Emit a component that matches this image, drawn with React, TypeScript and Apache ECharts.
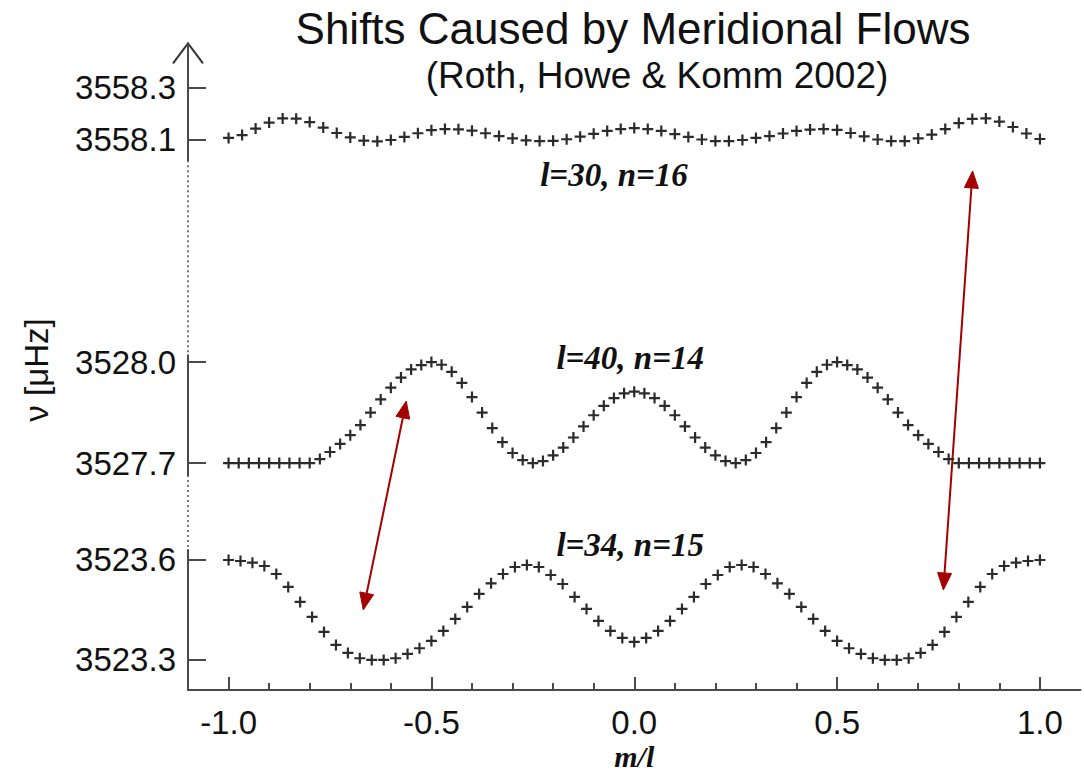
import React, { useEffect, useRef } from "react";
import * as echarts from "echarts";

// Degree of each mode; points sit at m/l for m = -l..l
const L_TOP = 30;
const L_MID = 40;
const L_BOT = 34;

// Frequencies (µHz) for l=30, n=16, m = -30..30
const nuTop = [
  3558.106, 3558.117, 3558.142, 3558.165, 3558.181, 3558.180, 3558.167, 3558.146, 3558.125, 3558.108,
  3558.096, 3558.093, 3558.098, 3558.110, 3558.124, 3558.136, 3558.140, 3558.139, 3558.134, 3558.124,
  3558.113, 3558.104, 3558.097, 3558.094, 3558.095, 3558.101, 3558.111, 3558.122, 3558.133, 3558.140,
  3558.144,
  3558.140, 3558.133, 3558.121, 3558.110, 3558.100, 3558.094, 3558.094, 3558.098, 3558.106, 3558.113,
  3558.123, 3558.133, 3558.138, 3558.140, 3558.137, 3558.125, 3558.112, 3558.100, 3558.094, 3558.094,
  3558.104, 3558.119, 3558.140, 3558.163, 3558.179, 3558.181, 3558.169, 3558.148, 3558.123, 3558.102,
];

// Frequencies (µHz) for l=40, n=14, m = -40..40
const nuMid = [
  3527.700, 3527.700, 3527.700, 3527.700, 3527.700, 3527.700, 3527.700, 3527.700, 3527.700, 3527.712,
  3527.733, 3527.757, 3527.783, 3527.813, 3527.850, 3527.889, 3527.924, 3527.954, 3527.978, 3527.991,
  3528.000, 3527.992, 3527.971, 3527.938, 3527.896, 3527.850, 3527.804, 3527.762, 3527.730, 3527.709,
  3527.700, 3527.706, 3527.723, 3527.746, 3527.776, 3527.809, 3527.842, 3527.870, 3527.893, 3527.907,
  3527.912,
  3527.907, 3527.893, 3527.870, 3527.842, 3527.809, 3527.776, 3527.746, 3527.723, 3527.706, 3527.700,
  3527.709, 3527.730, 3527.762, 3527.804, 3527.850, 3527.896, 3527.938, 3527.971, 3527.992, 3528.000,
  3527.991, 3527.978, 3527.954, 3527.924, 3527.889, 3527.850, 3527.813, 3527.783, 3527.757, 3527.733,
  3527.712, 3527.700, 3527.700, 3527.700, 3527.700, 3527.700, 3527.700, 3527.700, 3527.700, 3527.700,
];

// Frequencies (µHz) for l=34, n=15, m = -34..34
const nuBot = [
  3523.600, 3523.597, 3523.592, 3523.582, 3523.558, 3523.519, 3523.474, 3523.429, 3523.384, 3523.345,
  3523.321, 3523.305, 3523.300, 3523.300, 3523.305, 3523.318, 3523.335, 3523.357, 3523.387, 3523.423,
  3523.459, 3523.498, 3523.530, 3523.558, 3523.579, 3523.585, 3523.579, 3523.555, 3523.528, 3523.489,
  3523.453, 3523.417, 3523.387, 3523.366,
  3523.354,
  3523.366, 3523.387, 3523.417, 3523.453, 3523.489, 3523.528, 3523.555, 3523.579, 3523.585, 3523.579,
  3523.558, 3523.530, 3523.498, 3523.459, 3523.423, 3523.387, 3523.357, 3523.335, 3523.318, 3523.305,
  3523.300, 3523.300, 3523.305, 3523.321, 3523.345, 3523.384, 3523.429, 3523.474, 3523.519, 3523.558,
  3523.582, 3523.592, 3523.597, 3523.600,
];

// Axis ticks
const yTicksTop = [3558.1, 3558.3];
const yTicksMid = [3527.7, 3528.0];
const yTicksBot = [3523.3, 3523.6];
const xMajorTicks = [-1.0, -0.5, 0.0, 0.5, 1.0];
const xMinorTicks = [-0.9, -0.8, -0.7, -0.6, -0.4, -0.3, -0.2, -0.1, 0.1, 0.2, 0.3, 0.4, 0.6, 0.7, 0.8, 0.9];

// Mode labels and their anchor points [grid, m/l, ν]
const modeLabels = ["l=30, n=16", "l=40, n=14", "l=34, n=15"];
const modeLabelAnchors: [number, number, number][] = [
  [0, -0.05, 3557.962],
  [1, -0.01, 3528.012],
  [2, -0.01, 3523.645],
];

// Double-headed arrows linking mode features: [grid, m/l, ν] -> [grid, m/l, ν]
const arrowLinks: [[number, number, number], [number, number, number]][] = [
  [[1, -0.562, 3527.884], [2, -0.668, 3523.45]],
  [[0, 0.834, 3557.979], [2, 0.762, 3523.51]],
];

const SANS = '"Liberation Sans", Arial, Helvetica, sans-serif';
const SERIF = '"Liberation Serif", "Times New Roman", serif';
const AXIS_COLOR = "#4a4a4a";
const ARROW_RED = "#a30000";
const PLUS = "path://M4,0H6V4H10V6H6V10H4V6H0V4H4Z";

const GRID_LEFT = 188;
const GRID_RIGHT = 3.5;
const grids = [
  { top: 43.3, height: 117, min: 3558.02, max: 3558.47 },
  { top: 355.3, height: 119.6, min: 3527.665, max: 3528.02 },
  { top: 550, height: 139.9, min: 3523.21, max: 3523.63 },
];
const yTicks = [yTicksTop, yTicksMid, yTicksBot];

const toPoints = (l: number, vals: number[]) => vals.map((v, i) => [(i - l) / l, v]);

export default function App() {
  const ref = useRef<HTMLDivElement>(null);

  useEffect(() => {
    if (!ref.current) return;
    const chart = echarts.init(ref.current, null, { renderer: "svg" });

    const yAxes = grids.map((g, i) => ({
      type: "value",
      gridIndex: i,
      min: g.min,
      max: g.max,
      axisLine: { show: true, onZero: false, lineStyle: { color: AXIS_COLOR, width: 2 } },
      axisTick: {
        show: true,
        inside: true,
        length: 18,
        customValues: yTicks[i],
        lineStyle: { color: AXIS_COLOR, width: 2 },
      },
      axisLabel: {
        show: true,
        customValues: yTicks[i],
        formatter: (v: number) => v.toFixed(1),
        margin: 12,
        fontSize: 33,
        fontFamily: SANS,
        color: "#111",
      },
      splitLine: { show: false },
    }));

    const hiddenX = (i: number) => ({
      type: "value",
      gridIndex: i,
      min: -1.1,
      max: 1.1,
      show: false,
    });

    const option: any = {
      animation: false,
      backgroundColor: "#fff",
      grid: grids.map((g) => ({
        left: GRID_LEFT,
        right: GRID_RIGHT,
        top: g.top,
        height: g.height,
        containLabel: false,
        outerBoundsMode: "none",
      })),
      xAxis: [
        hiddenX(0),
        hiddenX(1),
        {
          type: "value",
          gridIndex: 2,
          position: "bottom",
          min: -1.1,
          max: 1.1,
          axisLine: { show: true, onZero: false, lineStyle: { color: AXIS_COLOR, width: 2 } },
          axisTick: {
            show: true,
            inside: true,
            length: 13,
            customValues: xMajorTicks,
            lineStyle: { color: AXIS_COLOR, width: 2 },
          },
          axisLabel: {
            show: true,
            customValues: xMajorTicks,
            formatter: (v: number) => v.toFixed(1),
            margin: 16,
            fontSize: 33,
            fontFamily: SANS,
            color: "#111",
          },
          splitLine: { show: false },
          name: "m/l",
          nameLocation: "middle",
          nameGap: 52,
          nameTextStyle: {
            fontFamily: SERIF,
            fontStyle: "italic",
            fontWeight: "bold",
            fontSize: 30,
            color: "#111",
          },
        },
        {
          type: "value",
          gridIndex: 2,
          position: "bottom",
          min: -1.1,
          max: 1.1,
          axisLine: { show: false, onZero: false },
          axisTick: {
            show: true,
            inside: true,
            length: 7,
            customValues: xMinorTicks,
            lineStyle: { color: AXIS_COLOR, width: 2 },
          },
          axisLabel: { show: false },
          splitLine: { show: false },
        },
      ],
      yAxis: yAxes,
      series: [
        { l: L_TOP, vals: nuTop, grid: 0 },
        { l: L_MID, vals: nuMid, grid: 1 },
        { l: L_BOT, vals: nuBot, grid: 2 },
      ].map((s, i) => ({
        type: "scatter",
        name: modeLabels[i],
        xAxisIndex: s.grid,
        yAxisIndex: s.grid,
        data: toPoints(s.l, s.vals),
        symbol: PLUS,
        symbolSize: 11,
        itemStyle: { color: "#2b2b2b", opacity: 1 },
        silent: true,
      })),
    };

    chart.setOption(option);

    const px = (g: number, x: number, y: number) =>
      chart.convertToPixel({ gridIndex: g } as any, [x, y]) as number[];

    const graphics: any[] = [];

    // Title
    graphics.push({
      type: "text",
      x: 633,
      y: 28,
      style: {
        text: "Shifts Caused by Meridional Flows",
        font: `44px ${SANS}`,
        fill: "#111",
        align: "center",
        verticalAlign: "middle",
      },
    });
    graphics.push({
      type: "text",
      x: 657,
      y: 75,
      style: {
        text: "(Roth, Howe & Komm 2002)",
        font: `37px ${SANS}`,
        fill: "#111",
        align: "center",
        verticalAlign: "middle",
      },
    });

    // Vertical axis title
    graphics.push({
      type: "text",
      x: 36,
      y: 370,
      rotation: Math.PI / 2,
      style: {
        text: "ν [μHz]",
        font: `33px ${SANS}`,
        fill: "#111",
        align: "center",
        verticalAlign: "middle",
      },
    });

    // Open arrow head on top of the frequency axis and dotted breaks between panels
    const axisX = GRID_LEFT;
    const topY = grids[0].top;
    graphics.push({
      type: "polyline",
      shape: { points: [[axisX - 15, topY + 20], [axisX, topY], [axisX + 15, topY + 20]] },
      style: { stroke: "#333", lineWidth: 2, fill: null },
    });
    for (let i = 0; i < grids.length - 1; i++) {
      const y1 = grids[i].top + grids[i].height;
      const y2 = grids[i + 1].top;
      graphics.push({
        type: "line",
        shape: { x1: axisX, y1, x2: axisX, y2 },
        style: { stroke: "#777", lineWidth: 2, lineDash: [2, 3] },
      });
    }

    // Mode labels
    modeLabelAnchors.forEach(([g, x, y], i) => {
      const p = px(g, x, y);
      graphics.push({
        type: "text",
        x: p[0],
        y: p[1],
        style: {
          text: modeLabels[i],
          font: `italic bold 33px ${SERIF}`,
          fill: "#111",
          align: "center",
          verticalAlign: "middle",
        },
      });
    });

    // Red double-headed arrows
    const headLen = 17;
    const headHalf = 7;
    arrowLinks.forEach(([a, b]) => {
      const p1 = px(a[0], a[1], a[2]);
      const p2 = px(b[0], b[1], b[2]);
      const dx = p2[0] - p1[0];
      const dy = p2[1] - p1[1];
      const len = Math.hypot(dx, dy);
      const ux = dx / len;
      const uy = dy / len;
      const nx = -uy;
      const ny = ux;
      graphics.push({
        type: "line",
        shape: {
          x1: p1[0] + ux * headLen * 0.8,
          y1: p1[1] + uy * headLen * 0.8,
          x2: p2[0] - ux * headLen * 0.8,
          y2: p2[1] - uy * headLen * 0.8,
        },
        style: { stroke: ARROW_RED, lineWidth: 2 },
      });
      const head = (tip: number[], dirx: number, diry: number) => {
        const bx = tip[0] - dirx * headLen;
        const by = tip[1] - diry * headLen;
        return {
          type: "polygon",
          shape: {
            points: [
              [tip[0], tip[1]],
              [bx + nx * headHalf, by + ny * headHalf],
              [bx - nx * headHalf, by - ny * headHalf],
            ],
          },
          style: { fill: ARROW_RED, stroke: ARROW_RED, lineWidth: 1 },
        };
      };
      graphics.push(head(p2, ux, uy));
      graphics.push(head(p1, -ux, -uy));
    });

    chart.setOption({ graphic: graphics });

    return () => chart.dispose();
  }, []);

  return (
    <div
      ref={ref}
      style={{ position: "fixed", left: 0, top: 0, width: 1084, height: 774, background: "#fff" }}
    />
  );
}
